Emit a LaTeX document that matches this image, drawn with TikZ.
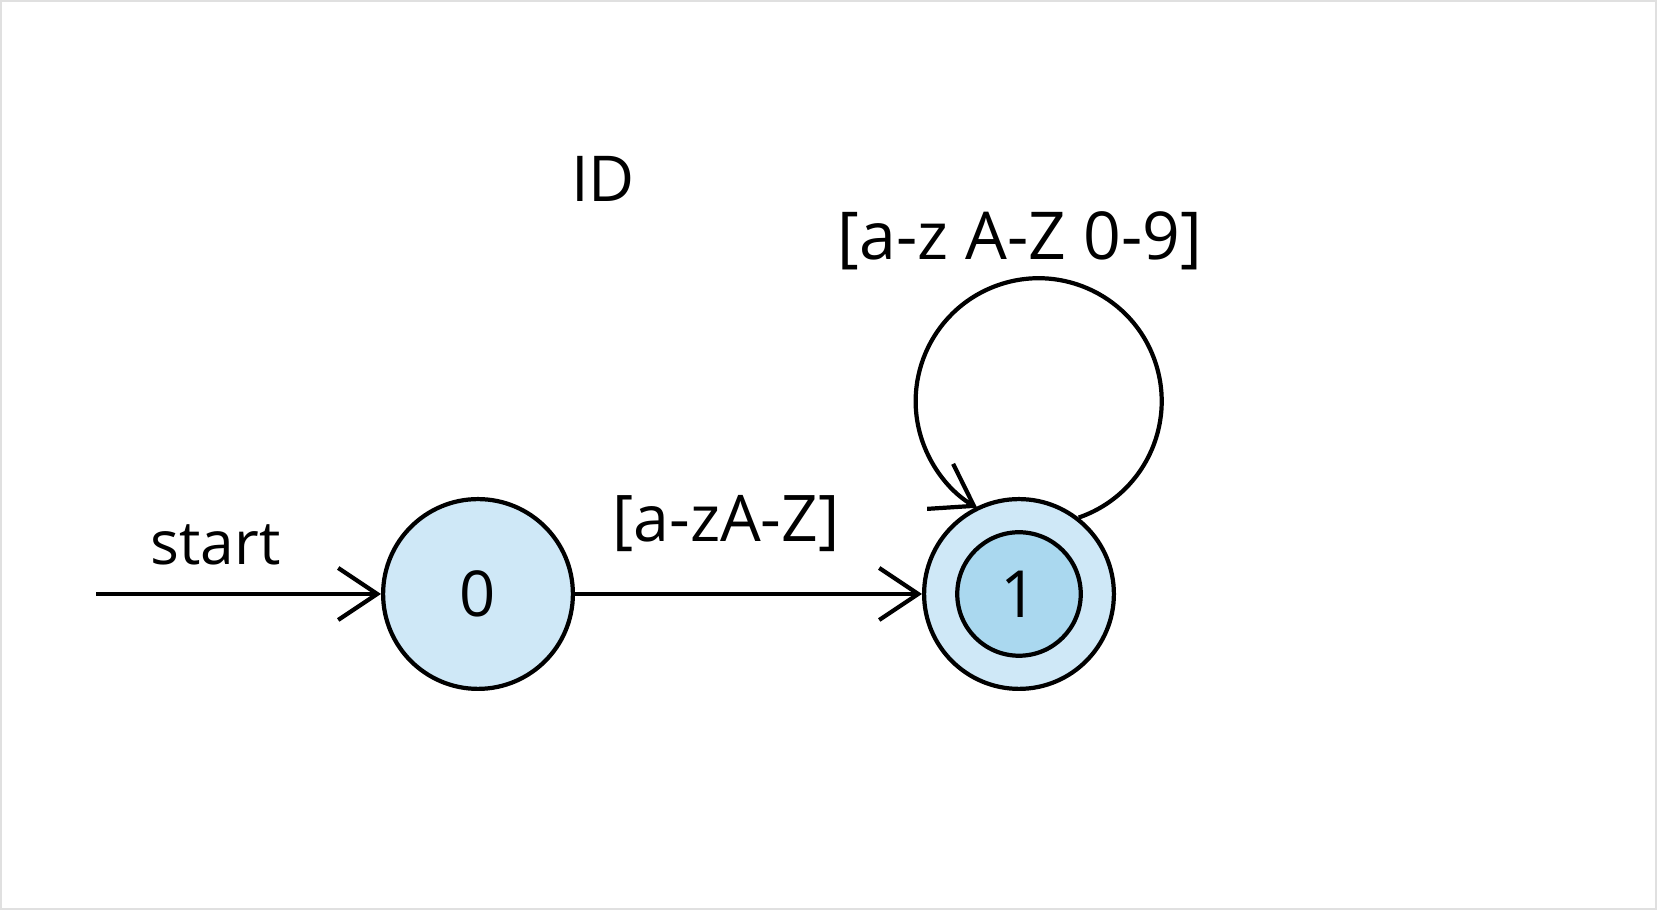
\documentclass[tikz,border=0pt]{standalone}
\usepackage{fontspec}
\setmainfont{Open Sans}
\usetikzlibrary{arrows.meta,positioning}
\definecolor{stateblue}{RGB}{207,232,247}
\definecolor{finalblue}{RGB}{170,216,239}
\tikzset{
    %Define standard arrow tip
    >={Straight Barb[length=0.39cm,width=0.52cm]},
    %Define style for states
    state/.style={
           circle,
           draw=black, line width=1.2pt,
           minimum size=1.898cm,
           inner sep=0pt,
           font=\fontsize{18}{20}\selectfont,
           fill=stateblue},
    final/.style={
           circle,
           draw=black, line width=1.2pt,
           minimum size=1.235cm,
           inner sep=0pt,
           font=\fontsize{18.5}{20}\selectfont,
           fill=finalblue},
    % Define label style
    lbl/.style={
           inner sep=0pt,
           font=\fontsize{18}{20}\selectfont},
    % Define arrow style
    pil/.style={
           ->,
           line width=1.2pt}
}

\begin{document}
\begin{tikzpicture}
\useasboundingbox (0,0) rectangle (16.57,9.10);
\draw[black!12, line width=0.6pt] (0.01,0.01) rectangle (16.56,9.09);
\node[state] (q0) at (4.78,3.16) {0};
\node[state] (q1) at (10.19,3.16) {};
\node[final] (q1f) at (q1) {1};
\coordinate (start) at (0.96,3.16);
\node[lbl, anchor=base] (name) at (6.03,7.08) {ID};
\node[lbl, anchor=base, font=\fontsize{18.8}{20}\selectfont] (loop) at (10.2,6.50) {[a-z A-Z 0-9]};
\path[pil]
	(start) edge node[lbl, pos=0.42, anchor=base, yshift=0.29cm, font=\fontsize{17.2}{20}\selectfont]{start} (q0)
	(q0) edge node[lbl, pos=0.435, anchor=base, yshift=0.52cm, font=\fontsize{18.3}{20}\selectfont]{[a-zA-Z]} (q1);
\draw[pil] (q1.52) arc[start angle=-71, end angle=240, radius=1.23cm];
\end{tikzpicture}
\end{document}
